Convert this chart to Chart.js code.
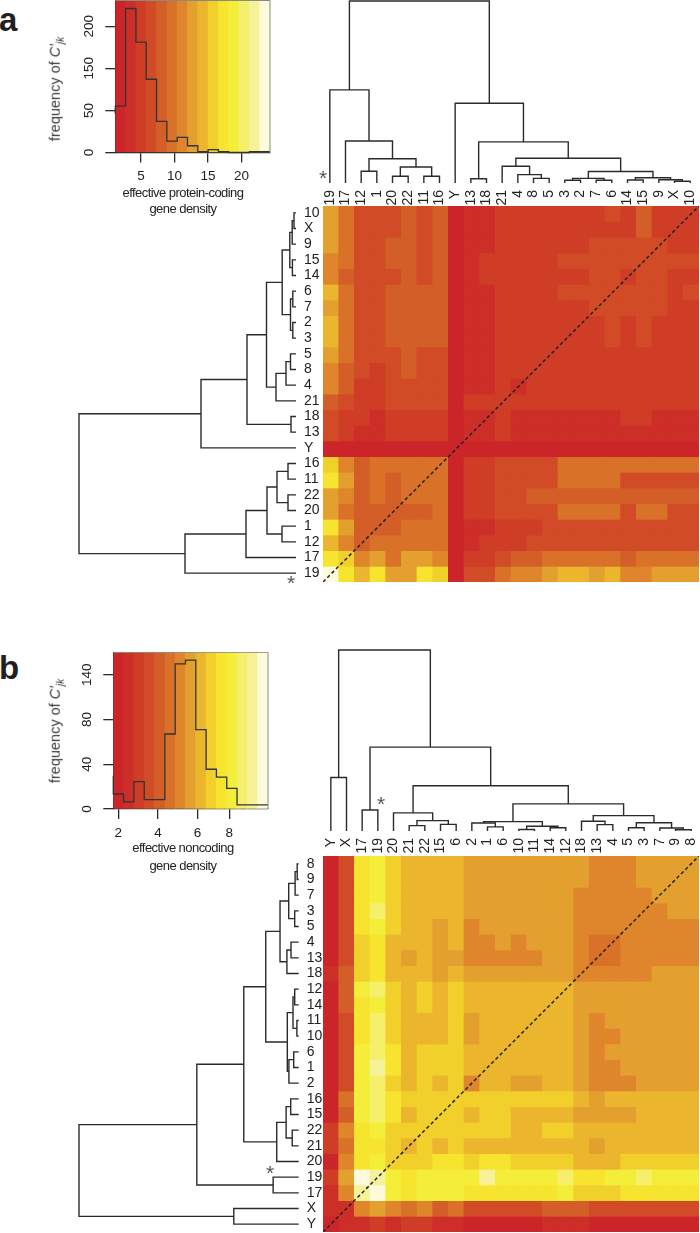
<!DOCTYPE html>
<html>
<head>
<meta charset="utf-8">
<script src="https://cdn.jsdelivr.net/npm/chart.js@4"></script>
<style>
  html, body { margin: 0; padding: 0; background: #fff; }
  #page { position: relative; width: 700px; height: 1233px; overflow: hidden; font-family: "Liberation Sans", Arial, sans-serif; color: #222; }
  #page canvas { position: absolute; }
  .txt { position: absolute; white-space: nowrap; line-height: 1; }
  .letter { font-weight: bold; font-size: 33px; color: #231f20; }
  .star { font-size: 21px; color: #555; }
  .xtitle { font-size: 13px; letter-spacing: -0.55px; transform: translate(-50%, -50%); }
  .ytitle { font-size: 14.5px; color: #3a3a3a; transform: translate(-50%, -50%) rotate(-90deg); }
  .ytitle sub { font-size: 10px; line-height: 0; }
</style>
</head>
<body>
<div id="page"></div>
<script>
// colour levels used by both keys and both heatmaps
const palette = ["#cc2529", "#cd2e28", "#cf3d27", "#d14b26", "#d45e27", "#d97129", "#df862c", "#e4a02e",
  "#ebb62d", "#f2d02c", "#f7e42e", "#f4ee3b", "#f5ef6b", "#f7f199", "#fdfbdc"];

// panel a
const colsA = ["19","17","12","1","20","22","11","16","Y","13","18","21","4","8","5","3","2","7","6","14","15","9","X","10"];
const rowsA = ["10","X","9","15","14","6","7","2","3","5","8","4","21","18","13","Y","16","11","22","20","1","12","17","19"];
const heatA = [
  [7,5,3,3,3,4,3,4,0,1,1,2,2,2,2,2,2,2,3,2,4,2,2,2],
  [7,5,3,3,3,4,3,4,0,1,1,2,2,2,2,2,2,2,2,2,4,2,2,2],
  [7,5,3,3,4,4,3,4,0,1,1,2,2,2,2,2,2,3,3,3,3,3,2,2],
  [6,5,3,3,4,4,3,4,0,1,2,2,2,2,2,3,3,3,3,3,3,3,3,3],
  [6,4,3,3,3,4,3,4,0,1,2,2,2,2,2,2,2,3,3,2,3,3,2,2],
  [8,5,3,3,4,4,4,4,0,1,1,2,2,2,2,3,3,3,3,3,3,3,2,3],
  [7,5,3,3,4,4,4,4,0,1,1,2,2,2,2,2,2,3,3,3,3,3,2,2],
  [8,5,3,3,4,4,4,4,0,1,1,2,2,2,2,2,2,2,3,2,3,2,2,2],
  [8,5,3,3,4,4,4,4,0,1,1,2,2,2,2,2,2,2,3,2,3,2,2,2],
  [7,5,3,3,3,4,3,3,0,1,1,2,2,2,2,2,2,2,2,2,2,2,2,2],
  [6,4,3,2,3,4,3,3,0,1,1,2,2,2,2,2,2,2,2,2,2,2,2,2],
  [6,4,2,2,3,3,3,3,0,1,1,2,1,2,2,2,2,2,2,2,2,2,2,2],
  [4,3,2,2,3,3,3,3,0,2,2,2,2,2,2,2,2,2,2,2,2,2,2,2],
  [3,2,2,1,2,2,2,2,0,1,1,2,1,1,1,1,1,1,1,2,2,1,1,1],
  [3,2,1,1,2,2,2,2,0,1,1,2,1,1,1,1,1,1,1,1,1,1,1,1],
  [0,0,0,0,0,0,0,0,0,0,0,0,0,0,0,0,0,0,0,0,0,0,0,0],
  [9,6,4,5,5,5,5,5,0,2,2,3,3,3,3,5,5,5,5,5,5,5,5,5],
  [10,7,4,5,4,5,5,5,0,2,2,3,3,3,3,5,5,5,5,3,3,3,3,3],
  [7,6,4,5,4,5,5,5,0,2,2,3,3,4,4,4,4,4,4,4,4,4,4,4],
  [7,5,4,4,4,4,4,5,0,2,2,3,3,3,3,5,5,5,5,3,5,5,3,3],
  [10,7,4,4,4,5,5,5,0,1,1,2,2,2,3,3,3,3,3,3,3,3,3,3],
  [8,6,4,5,5,5,5,5,0,1,2,2,2,3,3,3,3,3,3,3,3,3,3,3],
  [10,9,6,7,5,7,7,6,0,2,2,3,4,4,5,5,5,5,5,4,5,5,5,5],
  [14,10,8,10,7,7,10,9,0,3,3,5,6,6,7,8,8,7,8,6,6,7,7,7]
];
// merges in hclust style: negative = leaf position, positive = earlier merge, then height
const mergesA = [
  [-3,-4,14],[-5,-6,8],[-7,-8,8],[2,3,19],[1,4,29],[-2,5,50],[-1,6,111],[-10,-11,5],
  [-14,-15,5.5],[-13,9,10],[-12,10,20],[-16,-17,3.2],[-18,-19,3.2],[12,13,5.5],[-20,-21,3.6],
  [-23,-24,2],[-22,16,3.8],[15,17,6.2],[14,18,13.8],[11,19,29.5],[8,20,49],[-9,21,95],[7,22,217]
];
const histA = [46,55,171,131,87,37,13.5,18,8,1,3.5,1,0,0,1];
const edgesA = [1.15,2.69,4.23,5.77,7.31,8.85,10.39,11.93,13.47,15.01,16.55,18.09,19.63,21.17,22.71,24.25];
const yTickPosA = [0,50,100,150];
const yTickTextA = ["0","50","150","200"];
const xTickPosA = [5,10,15,20];
const xTickTextA = ["5","10","15","20"];

// panel b
const colsB = ["Y","X","17","19","20","21","22","15","6","2","1","6","10","11","14","12","18","13","4","5","3","7","9","8"];
const rowsB = ["8","9","7","3","5","4","13","18","12","14","11","10","6","1","2","16","15","22","21","20","19","17","X","Y"];
const heatB = [
  [0,3,10,11,9,8,8,8,8,7,7,7,7,7,7,7,7,6,6,6,7,7,7,7],
  [0,3,10,11,9,8,8,8,8,7,7,7,7,7,7,7,7,6,6,6,7,7,7,7],
  [0,3,10,11,9,8,8,8,8,7,7,7,7,7,7,7,6,6,6,6,6,7,7,7],
  [0,3,10,12,9,8,8,8,8,7,7,7,7,7,7,7,6,6,6,6,6,6,7,7],
  [0,3,10,11,9,8,8,7,8,6,7,7,7,7,7,7,6,6,6,6,6,6,6,6],
  [0,3,9,10,8,8,8,7,8,6,6,7,6,7,7,7,6,5,5,6,6,6,6,6],
  [0,3,9,10,8,7,8,7,7,6,6,6,6,6,7,7,6,5,5,6,6,6,6,6],
  [1,4,9,10,8,8,8,7,8,7,7,7,7,7,7,7,6,6,6,6,6,7,7,7],
  [0,4,11,12,9,8,9,8,9,8,8,8,8,8,8,8,7,7,7,7,7,7,7,7],
  [0,4,10,11,9,8,9,8,9,8,8,8,8,8,8,8,7,7,7,7,7,7,7,7],
  [0,3,10,12,9,8,8,8,9,7,8,8,8,8,8,8,7,6,7,7,7,7,7,7],
  [0,3,10,12,9,8,8,8,9,7,8,8,8,8,8,8,7,6,6,7,7,7,7,7],
  [0,3,11,12,10,8,9,9,9,8,8,8,8,8,8,8,7,6,7,7,7,7,7,7],
  [0,3,11,13,10,8,9,9,9,8,8,8,8,8,8,8,7,6,6,7,7,7,7,7],
  [0,3,11,12,9,8,9,8,9,6,8,8,7,7,8,8,7,6,6,6,7,7,7,7],
  [0,5,11,12,10,9,9,9,9,9,9,9,9,9,9,9,8,7,8,8,8,8,8,8],
  [0,4,11,12,10,8,9,9,9,8,9,9,8,8,8,8,7,7,7,7,8,8,8,8],
  [2,6,10,11,9,9,9,9,9,9,9,9,8,8,9,9,8,8,8,8,8,8,8,8],
  [2,5,10,10,9,8,9,8,9,8,8,8,8,8,8,8,8,7,8,8,8,8,8,8],
  [0,6,10,11,9,9,9,10,10,9,10,10,9,9,9,9,8,8,8,9,9,9,9,9],
  [2,7,14,13,11,10,11,11,11,11,13,11,11,11,11,12,10,10,11,11,12,11,11,11],
  [1,6,13,14,11,10,11,11,11,10,10,10,10,10,10,11,9,9,9,10,10,10,10,10],
  [1,1,6,7,6,5,6,4,5,3,3,3,3,3,4,4,4,3,3,3,3,3,3,3],
  [0,1,1,2,1,2,2,1,1,0,0,0,0,0,1,1,1,0,0,0,0,0,0,0]
];
const mergesB = [
  [-1,-2,65],[-3,-4,25.6],[-6,-7,6.5],[-8,-9,8],[3,4,12.6],[-5,5,22],[-11,-12,5],[-10,7,9.8],
  [-13,-14,1.8],[-15,-16,4],[9,10,5.7],[8,11,11.4],[-18,-19,7.7],[-17,13,11.8],[-20,-21,4],
  [-23,-24,1.5],[-22,16,3.6],[15,17,10],[14,18,18.7],[12,19,33],[6,20,55],[2,21,102],[1,22,220]
];
const histB = [29.6,13.4,6.3,24.5,8.4,8.4,67,129.6,133,71,35.5,28.4,18.5,3.6,3.6];
const edgesB = [1.75,2.27,2.79,3.31,3.83,4.35,4.87,5.39,5.91,6.43,6.95,7.47,7.99,8.51,9.03,9.55];
const yTickPosB = [0,40,80,120];
const yTickTextB = ["0","40","80","140"];
const xTickPosB = [2,4,6,7.6];
const xTickTextB = ["2","4","6","8"];

const page = document.getElementById("page");
const INK = "#2b2b2b";
const FONT = "'Liberation Sans', Arial, sans-serif";

Chart.defaults.animation = false;
Chart.defaults.responsive = false;
Chart.defaults.font.family = FONT;
Chart.defaults.plugins.legend.display = false;
Chart.defaults.plugins.tooltip.enabled = false;

function addCanvas(left, top, width, height) {
  const c = document.createElement("canvas");
  c.width = width;
  c.height = height;
  c.style.left = left + "px";
  c.style.top = top + "px";
  page.appendChild(c);
  return c;
}

function addText(cls, x, y, html) {
  const d = document.createElement("div");
  d.className = "txt " + cls;
  d.style.left = x + "px";
  d.style.top = y + "px";
  d.innerHTML = html;
  page.appendChild(d);
}

// stop tick labels from shrinking the plot, the areas have to line up with the heatmap
function noPadding(s) {
  s.paddingLeft = s.paddingRight = s.paddingTop = s.paddingBottom = 0;
}

// thin grey box round the colour key
const framePlugin = {
  id: "frame",
  afterDatasetsDraw(chart) {
    const a = chart.chartArea, ctx = chart.ctx;
    ctx.save();
    ctx.strokeStyle = "#8a8a80";
    ctx.lineWidth = 1;
    ctx.beginPath();
    ctx.moveTo(a.left, a.top);
    ctx.lineTo(a.right, a.top);
    ctx.lineTo(a.right, a.bottom);
    ctx.stroke();
    ctx.restore();
  }
};

function colourKey(o) {
  const ymax = o.ymax;
  const steps = o.hist.map((v, i) => ({ x: o.edges[i], y: v }));
  steps.push({ x: o.edges[o.edges.length - 1], y: o.hist[o.hist.length - 1] });
  const bands = palette.map((c, i) => ({ x: (o.edges[i] + o.edges[i + 1]) / 2, y: ymax }));
  new Chart(addCanvas(o.left, o.top, o.width, o.height), {
    type: "bar",
    data: {
      datasets: [
        { type: "line", data: steps, stepped: "after", borderColor: "#333",
          borderWidth: 1.3, pointRadius: 0, fill: false, clip: false, order: 0 },
        { data: bands, backgroundColor: palette, barPercentage: 1, categoryPercentage: 1, order: 1 }
      ]
    },
    options: {
      layout: { padding: { top: o.padTop, right: 3 } },
      scales: {
        x: {
          type: "linear", position: "bottom", min: o.edges[0], max: o.edges[o.edges.length - 1], offset: false,
          afterBuildTicks: s => { s.ticks = o.xPos.map(value => ({ value })); },
          afterFit: s => { s.height = o.axisH; noPadding(s); },
          grid: { offset: false, drawOnChartArea: false, tickLength: 10, color: INK, lineWidth: 1.3 },
          border: { color: INK, width: 1.3 },
          ticks: { color: "#222", font: { size: 13.5 }, padding: 6, maxRotation: 0, autoSkip: false,
            callback: (v, i) => o.xText[i] }
        },
        y: {
          type: "linear", min: 0, max: ymax,
          afterBuildTicks: s => { s.ticks = o.yPos.map(value => ({ value })); },
          afterFit: s => { s.width = o.axisW; noPadding(s); },
          grid: { drawOnChartArea: false, tickLength: 10, color: INK, lineWidth: 1.3 },
          border: { color: INK, width: 1.3 },
          ticks: { color: "#222", font: { size: 13.5 }, padding: 5, minRotation: 90, maxRotation: 90,
            crossAlign: "center", autoSkip: false, callback: (v, i) => o.yText[i] }
        }
      }
    },
    plugins: [framePlugin]
  });
}

// walks the merge list and gives one 4-point bracket per merge
function brackets(merges) {
  const pos = [], out = [];
  merges.forEach(([a, b, h]) => {
    const end = n => n < 0 ? { p: -n - 1, h: 0 } : { p: pos[n - 1].p, h: pos[n - 1].h };
    const ea = end(a), eb = end(b);
    out.push([ea, { p: ea.p, h }, { p: eb.p, h }, eb]);
    pos.push({ p: (ea.p + eb.p) / 2, h });
  });
  return out;
}

function treeDatasets(merges, toPoint) {
  return brackets(merges).map(b => ({
    data: b.map(toPoint), showLine: true, borderColor: INK, borderWidth: 1.4, pointRadius: 0,
    tension: 0, clip: false, borderJoinStyle: "miter"
  }));
}

function topTree(o) {
  new Chart(addCanvas(o.left, o.top, o.width, o.height), {
    type: "scatter",
    data: { datasets: treeDatasets(o.merges, pt => ({ x: pt.p, y: pt.h })) },
    options: {
      layout: { padding: { top: o.padTop } },
      scales: {
        x: {
          type: "linear", min: -0.5, max: 23.5,
          afterBuildTicks: s => { s.ticks = o.labels.map((l, i) => ({ value: i })); },
          afterFit: s => { s.height = o.axisH; noPadding(s); },
          grid: { display: false, drawTicks: false }, border: { display: false },
          ticks: { color: "#222", font: { size: 14 }, padding: o.labelPad, minRotation: 90, maxRotation: 90,
            autoSkip: false, callback: (v, i) => o.labels[i] }
        },
        y: { type: "linear", display: false, min: 0, max: o.root }
      }
    }
  });
}

function leftTree(o) {
  new Chart(addCanvas(o.left, o.top, o.width, o.height), {
    type: "scatter",
    data: { datasets: treeDatasets(o.merges, pt => ({ x: pt.h, y: pt.p })) },
    options: {
      layout: { padding: { left: 2 } },
      scales: {
        x: { type: "linear", display: false, reverse: true, min: 0, max: o.root },
        y: {
          type: "linear", position: "right", min: -0.5, max: 23.5,
          afterBuildTicks: s => { s.ticks = o.rows.map((l, i) => ({ value: i })); },
          afterFit: s => { s.width = o.axisW; noPadding(s); },
          grid: { display: false, drawTicks: false }, border: { display: false },
          ticks: { color: "#222", font: { size: 14 }, padding: 8, autoSkip: false,
            callback: (v, i) => o.rows[o.rows.length - 1 - i] }
        }
      }
    }
  });
}

function heatmap(o) {
  const n = o.cols.length;
  // one stacked dataset per row, one unit tall, coloured by its level
  const datasets = o.heat.map((row, r) => ({
    label: o.rows[r],
    data: row.map((l, c) => ({ x: c, y: 1 })),
    backgroundColor: row.map(l => palette[l]),
    barPercentage: 1,
    categoryPercentage: 1,
    order: 1
  }));
  datasets.push({
    type: "scatter", data: [{ x: -0.5, y: n }, { x: n - 0.5, y: 0 }], showLine: true,
    borderColor: "#222", borderWidth: 1.5, borderDash: [3.5, 2.6], pointRadius: 0, clip: false, order: 0
  });
  new Chart(addCanvas(o.left, o.top, o.width, o.height), {
    type: "bar",
    data: { datasets },
    options: {
      scales: {
        x: { type: "linear", display: false, stacked: true, offset: false, min: -0.5, max: n - 0.5 },
        y: { type: "linear", display: false, stacked: true, reverse: true, min: 0, max: n }
      }
    }
  });
}

// ---- panel a
colourKey({ left: 60, top: 0, width: 213, height: 190, padTop: 0.5, axisW: 55.3, axisH: 37.5,
  hist: histA, edges: edgesA, ymax: 180.5, yPos: yTickPosA, yText: yTickTextA, xPos: xTickPosA, xText: xTickTextA });
topTree({ left: 322, top: 0, width: 376, height: 206, padTop: 1, axisH: 23, labelPad: 7, merges: mergesA, labels: colsA, root: 217 });
leftTree({ left: 77, top: 205, width: 243, height: 376, axisW: 24, merges: mergesA, rows: rowsA, root: 217 });
heatmap({ left: 323, top: 206, width: 376, height: 376, cols: colsA, rows: rowsA, heat: heatA });

// ---- panel b
colourKey({ left: 60, top: 652, width: 211, height: 195, padTop: 0.3, axisW: 53.3, axisH: 38,
  hist: histB, edges: edgesB, ymax: 140, yPos: yTickPosB, yText: yTickTextB, xPos: xTickPosB, xText: xTickTextB });
topTree({ left: 323, top: 649, width: 376, height: 207, padTop: 1, axisH: 25, labelPad: 7, merges: mergesB, labels: colsB, root: 220 });
leftTree({ left: 77, top: 856, width: 245, height: 376, axisW: 23.3, merges: mergesB, rows: rowsB, root: 220 });
heatmap({ left: 323, top: 856, width: 376, height: 376, cols: colsB, rows: rowsB, heat: heatB });

// ---- text that mixes styles or sits outside the axes
addText("letter", -1, 3, "a");
addText("letter", -1, 651, "b");
addText("ytitle", 55, 89, "frequency of <i>C&#8242;</i><sub><i>jk</i></sub>");
addText("ytitle", 55, 731, "frequency of <i>C&#8242;</i><sub><i>jk</i></sub>");
addText("xtitle", 183, 192, "effective protein-coding");
addText("xtitle", 183, 208, "gene density");
addText("xtitle", 183, 847, "effective noncoding");
addText("xtitle", 183, 865, "gene density");
addText("star", 319, 167, "*");
addText("star", 287, 572, "*");
addText("star", 377, 793, "*");
addText("star", 266, 1162, "*");
</script>
</body>
</html>
